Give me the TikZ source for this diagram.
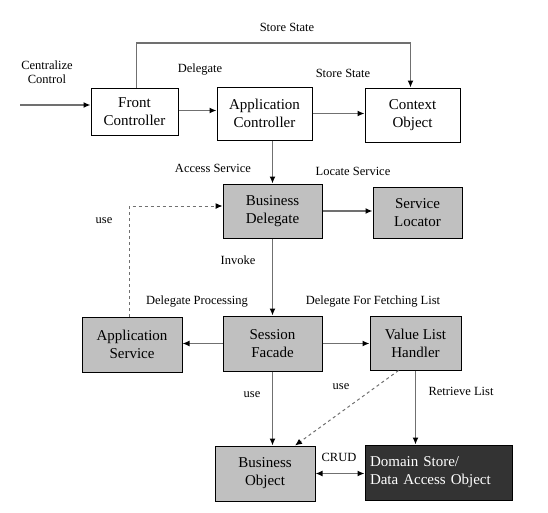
\documentclass[tikz,border=0pt]{standalone}
\usepackage{fontspec}
\setmainfont{Liberation Serif}
\usetikzlibrary{arrows.meta,calc}
\definecolor{boxgray}{HTML}{C0C0C0}
\definecolor{darkbox}{HTML}{333333}
\definecolor{linegray}{HTML}{707070}
\begin{document}
\begin{tikzpicture}[x=1pt,y=-1pt,
  box/.style={draw=black,line width=1pt,align=center,inner sep=0pt,
    font=\rmfamily\fontsize{15}{18}\selectfont},
  whitebox/.style={box,fill=white},
  graybox/.style={box,fill=boxgray},
  darkbox/.style={box,fill=darkbox,text=white,align=left},
  lbl/.style={font=\rmfamily\fontsize{12.5}{14.5}\selectfont,align=center,inner sep=0pt},
  conn/.style={draw=linegray,line width=1.5pt,-{Latex[length=7pt,width=6pt,color=black]}},
  dconn/.style={conn,dashed,line width=1pt,dash pattern=on 3pt off 3pt},
]
\useasboundingbox (0,0) rectangle (548,512);
% nodes
\node[whitebox,minimum width=87pt,minimum height=47pt] (FC) at (134.5,111.5) {Front\\Controller};
\node[whitebox,minimum width=95pt,minimum height=53pt] (AC) at (264.5,113.5) {Application\\Controller};
\node[whitebox,minimum width=95pt,minimum height=54pt] (CO) at (412.5,115) {Context\\Object};
\node[graybox,minimum width=99pt,minimum height=54pt] (BD) at (272.5,211) {Business\\Delegate};
\node[graybox,minimum width=89pt,minimum height=51pt] (SL) at (417.5,212.5) {Service\\Locator};
\node[graybox,minimum width=100pt,minimum height=55pt] (AS) at (132,344.5) {Application\\Service};
\node[graybox,minimum width=99pt,minimum height=55pt] (SF) at (272.5,343.5) {Session\\Facade};
\node[graybox,minimum width=91pt,minimum height=54pt] (VLH) at (415.5,343) {Value List\\Handler};
\node[graybox,minimum width=100pt,minimum height=55pt] (BO) at (265,473.5) {Business\\Object};
\node[darkbox,minimum width=147pt,minimum height=55pt,text width=137pt] (DS) at (438.5,472.5) {Domain Store/\\Data Access Object};
% helper coordinates
\coordinate (start) at (20,105);
\coordinate (topc) at (300,43);
% connectors
\draw[conn] (start) -- (start -| FC.west);
\draw[conn] ([xshift=2pt]FC.north) |- (topc) -| ([xshift=-2pt]CO.north);
\draw[conn] ([yshift=1pt]FC.east) -- ([yshift=1pt]FC.east -| AC.west);
\draw[conn] (AC.east) -- (AC.east -| CO.west);
\draw[conn] (AC.south -| BD.north) -- (BD.north);
\draw[conn] (BD.east) -- (BD.east -| SL.west);
\draw[dconn] ([xshift=-3pt]AS.north) |- ([yshift=5pt]BD.west);
\draw[conn] (BD.south) -- (SF.north);
\draw[conn] (SF.west) -- (SF.west -| AS.east);
\draw[conn] (SF.east) -- (SF.east -| VLH.west);
\draw[conn] (SF.south) -- (SF.south |- BO.north);
\draw[dconn] ([xshift=-17pt]VLH.south) -- ([xshift=30pt]BO.north);
\draw[conn] (VLH.south) -- (VLH.south |- DS.north);
\draw[conn,{Latex[length=7pt,width=6pt,color=black]}-{Latex[length=7pt,width=6pt,color=black]}] (BO.east) -- (BO.east -| DS.west);
% labels
\node[lbl] (l1) at (287,27) {Store State};
\node[lbl] (l2) at (47,72) {Centralize\\Control};
\node[lbl] (l3) at (200,70) {Delegate};
\node[lbl] (l4) at (343,73) {Store State};
\node[lbl] (l5) at (213,168) {Access Service};
\node[lbl] (l6) at (353,171) {Locate Service};
\node[lbl] (l7) at (104,221) {use};
\node[lbl] (l8) at (238,260) {Invoke};
\node[lbl] (l9) at (197,302) {Delegate Processing};
\node[lbl] (l10) at (373,302) {Delegate For Fetching List};
\node[lbl] (l11) at (252,395) {use};
\node[lbl] (l12) at (341,387) {use};
\node[lbl] (l13) at (461,391) {Retrieve List};
\node[lbl] (l14) at (339,457) {CRUD};
\end{tikzpicture}
\end{document}
